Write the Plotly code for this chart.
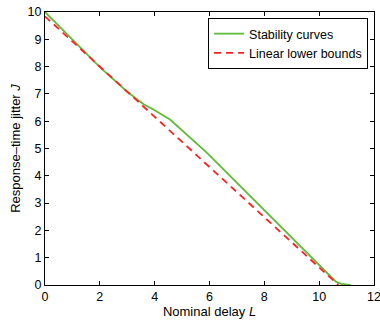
import plotly.graph_objects as go

# Data
stab_L = [0, 1.0, 2.0, 3.0, 3.6, 4.0, 4.56, 5.9, 8.69, 10.6, 10.8, 11.15]
stab_J = [10, 8.98, 7.98, 7.08, 6.62, 6.4, 6.06, 4.85, 2.03, 0.13, 0.04, 0.0]
lin_L = [0, 10.7]
lin_J = [9.84, 0]
x_ticks = [0, 2, 4, 6, 8, 10, 12]
y_ticks = [0, 1, 2, 3, 4, 5, 6, 7, 8, 9, 10]

FONT = "Liberation Sans, Arial, sans-serif"

fig = go.Figure()
fig.add_trace(go.Scatter(x=stab_L, y=stab_J, mode="lines", name="Stability curves",
                         line=dict(color="#5fbb38", width=1.8)))
fig.add_trace(go.Scatter(x=lin_L, y=lin_J, mode="lines", name="Linear lower bounds",
                         line=dict(color="#ff2020", width=1.8, dash="7px,5px")))

axis_common = dict(showgrid=False, zeroline=False, showline=True, linecolor="black",
                   linewidth=1, mirror="ticks", ticks="inside", ticklen=4,
                   tickcolor="black", automargin=False, ticklabeloverflow="allow",
                   tickfont=dict(family=FONT, size=12.5, color="black"))

fig.update_layout(
    width=380, height=324,
    margin=dict(l=45, r=6, t=12, b=39),
    paper_bgcolor="white", plot_bgcolor="white",
    font=dict(family=FONT, color="black"),
    xaxis=dict(range=[0, 12], tickvals=x_ticks, **axis_common,
               title=dict(text="Nominal delay <i>L</i>", font=dict(size=13, family=FONT), standoff=2)),
    yaxis=dict(range=[0, 10], tickvals=y_ticks, **axis_common,
               title=dict(text="Response–time jitter <i>J</i>", font=dict(size=13, family=FONT), standoff=4)),
    legend=dict(x=0.982, y=0.978, xanchor="right", yanchor="top", bgcolor="white",
                bordercolor="black", borderwidth=1, font=dict(size=12.5, family=FONT),
                tracegroupgap=0),
    showlegend=True,
)

fig.write_html("out.html", config={"displayModeBar": False},
               post_script="document.body.style.margin='0';")
